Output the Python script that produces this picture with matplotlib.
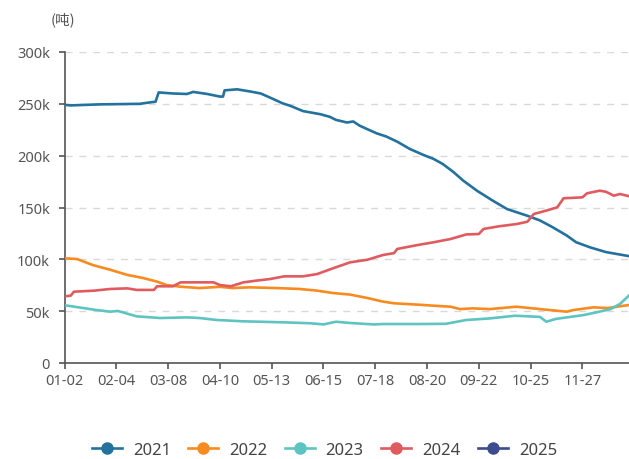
import matplotlib
matplotlib.use("Agg")
import matplotlib.pyplot as plt
from matplotlib.lines import Line2D
import pandas as pd

plt.rcParams['font.family'] = ['Noto Sans', 'Noto Sans CJK SC', 'DejaVu Sans']

# category axis: daily dates (leap-year calendar), 01-02 .. 12-31
dates = pd.date_range("2024-01-02", "2024-12-31", freq="D").strftime("%m-%d").tolist()
tick_idx = list(range(0, len(dates), 33))[:11]

# values in thousands of tonnes, read at day indices
d2021 = [0, 4, 23, 48, 55, 58, 60, 69, 78, 82, 91, 99, 101, 102, 110, 118, 125, 131, 139, 144,
         152, 163, 169, 173, 180, 184, 188, 193, 199, 205, 212, 220, 229, 235, 241, 248, 254,
         263, 273, 282, 295, 303, 311, 320, 326, 335, 345, 360]
v2021 = [249, 248.5, 249.5, 250, 251.5, 252, 261, 260, 259.5, 261.5, 259.5, 257, 257, 263, 264,
         262, 260, 256, 250.5, 248, 243, 240, 237.5, 234.5, 232, 233, 229, 225.5, 221.5, 218.5,
         213.5, 206.5, 200.5, 197, 192, 184, 176, 166, 156.5, 148.5, 142, 137.5, 131, 123, 116.5,
         111.5, 107, 103]

d2022 = [0, 8, 18, 29, 40, 50, 59, 65, 74, 86, 99, 107, 118, 135, 150, 161, 171, 182, 193, 203,
         210, 225, 235, 246, 252, 260, 271, 288, 303, 320, 324, 337, 346, 360]
v2022 = [101, 100.3, 94.5, 90, 85, 82, 78.5, 75.2, 73.6, 72.3, 73.5, 72.3, 73, 72.3, 71.4, 69.8,
         67.5, 66, 62.7, 59.2, 57.6, 56.3, 55.3, 54.3, 52, 52.7, 52, 54.3, 52, 49.5, 51, 53.7, 53, 56]

d2023 = [0, 2, 19, 29, 34, 46, 61, 78, 86, 97, 114, 125, 140, 157, 165, 173, 182, 197, 203, 225,
         243, 256, 271, 287, 303, 307, 313, 331, 339, 348, 354, 360]
v2023 = [55.5, 55.3, 51.4, 49.5, 50.2, 45, 43.4, 44, 43.4, 41.5, 40.2, 39.8, 39.2, 38.3, 37.2,
         39.8, 38.6, 37.2, 37.6, 37.6, 37.8, 41.5, 43, 45.6, 44.5, 39.8, 42.5, 46.3, 48.9, 52, 57, 65.5]

d2024 = [0, 4, 6, 19, 29, 40, 46, 57, 59, 69, 74, 86, 95, 99, 106, 114, 122, 131, 140, 152, 161,
         171, 182, 193, 203, 210, 212, 225, 235, 246, 256, 264, 267, 277, 288, 295, 299, 307, 314,
         318, 330, 333, 341, 345, 350, 354, 360]
v2024 = [64.3, 65, 68.8, 69.8, 71.4, 72, 70.5, 70.5, 74, 74, 77.8, 77.8, 77.8, 75.2, 74, 77.8,
         79.4, 81, 83.6, 83.6, 85.8, 91.3, 97.1, 99.6, 104.2, 106, 110, 113.8, 116.4, 119.6, 124,
         124.4, 129.3, 131.9, 134, 136.3, 143.7, 147, 150.2, 158.9, 159.8, 163.7, 166.2, 165.2,
         161.4, 163, 160.8]

d2025 = []
v2025 = []

series = [("2021", d2021, v2021, "#23729e"),
          ("2022", d2022, v2022, "#f78b1f"),
          ("2023", d2023, v2023, "#5ec4c1"),
          ("2024", d2024, v2024, "#e05b5f"),
          ("2025", d2025, v2025, "#3d4c8e")]

fig = plt.figure(figsize=(6.29, 4.60), dpi=100)
ax = fig.add_axes([64.5 / 629, 1 - 364 / 460, 1 - 64.5 / 629, (364 - 53) / 460])

for name, d, v, c in series:
    ax.plot(d, [x * 1000 for x in v], color=c, lw=1.9, solid_joinstyle='round', zorder=3)

ax.set_xlim(0, 359.7)
ax.set_ylim(0, 300000)
yt = [0, 50000, 100000, 150000, 200000, 250000, 300000]
ax.set_yticks(yt)
ax.set_yticklabels(["0" if t == 0 else f"{t // 1000}k" for t in yt])
ax.set_xticks(tick_idx)
ax.set_xticklabels([dates[i] for i in tick_idx])

for t in yt[1:]:
    ax.axhline(t, color="#d9d9d9", lw=1, ls=(0, (5, 5)), zorder=1)

for s in ["top", "right"]:
    ax.spines[s].set_visible(False)
for s in ["left", "bottom"]:
    ax.spines[s].set_color("#555555")
    ax.spines[s].set_linewidth(1.2)
ax.tick_params(axis="both", colors="#555555", labelcolor="#555555", labelsize=10.5,
               length=4.5, width=1.2)
ax.tick_params(axis="y", pad=6)
ax.tick_params(axis="x", pad=3)

fig.text(51 / 629, 1 - 20 / 460, "(吨)", fontsize=10.5, color="#555555", va="center", ha="left",
         family=['Noto Sans CJK SC', 'DejaVu Sans'])

handles = [Line2D([0], [0], color=c, lw=1.9, marker="o", markersize=8,
                  markerfacecolor=c, markeredgecolor=c) for _, _, _, c in series]
labels = [n for n, _, _, _ in series]
leg = fig.legend(handles, labels, loc="center", bbox_to_anchor=(324.5 / 629, 1 - 451 / 460),
                 ncol=5, frameon=False, fontsize=12, handlelength=1.8, handletextpad=0.65,
                 columnspacing=1.05)
for t in leg.get_texts():
    t.set_color("#444444")

fig.savefig("out.png", dpi=100)
